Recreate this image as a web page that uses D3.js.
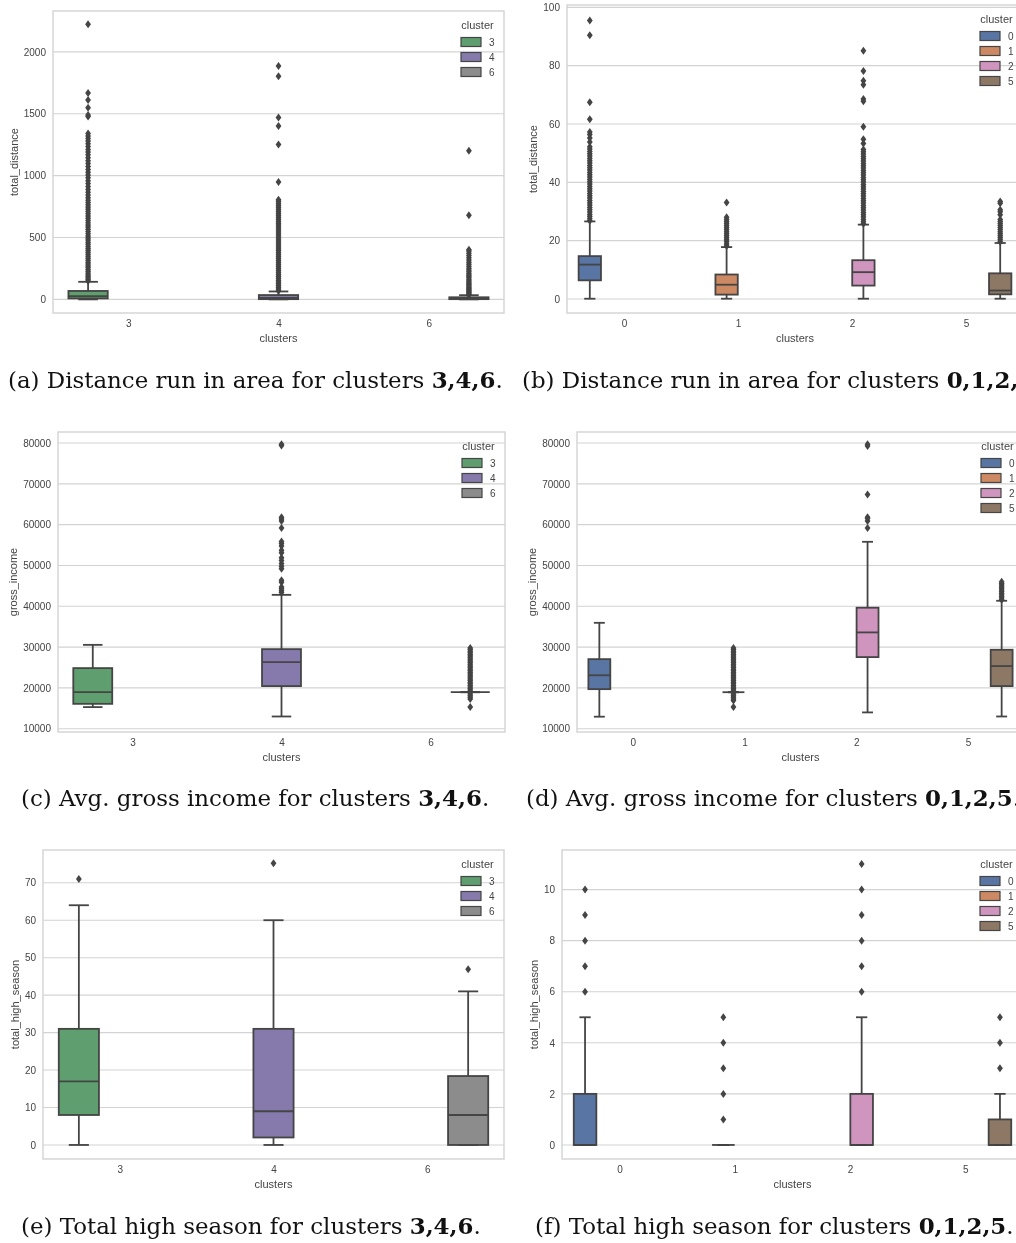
<!DOCTYPE html>
<html>
<head>
<meta charset="utf-8">
<script src="https://cdn.jsdelivr.net/npm/d3@7"></script>
<style>
  body { margin: 0; background: #fff; }
  svg { display: block; }
</style>
</head>
<body>
<svg id="fig" width="1016" height="1243"></svg>
<script>
// ---------- categories ----------
const leftClusters = ["3", "4", "6"];
const rightClusters = ["0", "1", "2", "5"];

// ---------- box statistics: [whisker low, q1, median, q3, whisker high] ----------
const distanceLeftBoxes = [[0, 8, 26, 68, 142], [0, 2, 11, 35, 64], [0, 2, 7, 17, 34]];
const distanceRightBoxes = [[0.1, 6.4, 11.8, 14.7, 26.6], [0.1, 1.5, 4.9, 8.4, 17.8], [0.1, 4.6, 9.2, 13.3, 25.5], [0.1, 1.6, 2.9, 8.8, 19.2]];
const grossLeftBoxes = [[15300, 16100, 18950, 24850, 30550], [13000, 20450, 26300, 29500, 42800], [18950, 18950, 18950, 18950, 18950]];
const grossRightBoxes = [[12950, 19700, 23100, 27050, 35950], [18950, 18950, 18950, 18950, 18950], [14000, 27550, 33600, 39650, 55800], [13000, 20450, 25350, 29350, 41350]];
const seasonLeftBoxes = [[0, 8, 17, 31, 64], [0, 2, 9, 31, 60], [0, 0, 8, 18.4, 41]];
const seasonRightBoxes = [[0, 0, 0, 2, 5], [0, 0, 0, 0, 0], [0, 0, 0, 2, 5], [0, 0, 0, 1, 2]];

// ---------- outliers ----------
const distanceLeftFliers = [
  [148, 160, 172, 185, 198, 212, 226, 240, 255, 270, 285, 300, 316, 332, 348, 364, 380, 396, 412, 428, 445, 462, 479, 496, 513, 530, 548, 566, 584, 602, 620, 638, 656, 674, 692, 710, 728, 746, 764, 782, 800, 822, 844, 866, 888, 912, 936, 958, 982, 1004, 1028, 1050, 1074, 1098, 1120, 1144, 1168, 1190, 1212, 1236, 1258, 1280, 1300, 1320, 1340, 1478, 1490, 1548, 1610, 1668, 2222],
  [70, 84, 98, 112, 126, 140, 155, 170, 185, 200, 216, 232, 248, 264, 280, 296, 312, 328, 344, 360, 376, 392, 408, 424, 440, 456, 472, 488, 504, 520, 536, 552, 568, 584, 600, 616, 632, 648, 664, 680, 696, 712, 728, 744, 760, 776, 792, 806, 948, 1252, 1400, 1470, 1802, 1886],
  [36, 44, 52, 60, 68, 76, 84, 92, 100, 110, 120, 130, 140, 150, 162, 174, 186, 198, 210, 224, 238, 252, 268, 284, 300, 318, 336, 355, 372, 390, 402, 680, 1200]
];
const distanceRightFliers = [
  [26.8, 27.5, 28.3, 29, 29.8, 30.6, 31.4, 32.2, 33, 33.8, 34.6, 35.4, 36.2, 37, 37.8, 38.6, 39.4, 40.2, 41, 41.8, 42.6, 43.4, 44.2, 45, 45.8, 46.6, 47.4, 48.2, 49, 49.8, 50.6, 51.4, 52.2, 53.8, 55.2, 56.4, 57.3, 61.6, 67.5, 90.4, 95.5],
  [18.2, 18.9, 19.6, 20.3, 21, 21.7, 22.4, 23.1, 23.8, 24.5, 25.2, 25.9, 26.6, 27.3, 28, 33.1],
  [25.8, 26.5, 27.3, 28.1, 28.9, 29.7, 30.5, 31.3, 32.1, 32.9, 33.7, 34.5, 35.3, 36.1, 36.9, 37.7, 38.5, 39.3, 40.1, 40.9, 41.7, 42.5, 43.3, 44.1, 44.9, 45.7, 46.5, 47.3, 48.1, 48.9, 49.7, 50.5, 51.3, 53.3, 54.8, 59.1, 67.8, 68.6, 73.5, 74.8, 78.2, 85.1],
  [19.6, 20.3, 21, 21.7, 22.4, 23.1, 23.8, 24.5, 25.2, 25.9, 26.6, 27.3, 28.9, 29.9, 30.6, 32.8, 33.4]
];
const grossLeftFliers = [
  [],
  [43400, 43800, 44300, 44700, 45900, 46400, 49200, 49800, 50500, 51200, 51900, 53100, 53700, 54800, 55400, 55900, 59200, 60900, 61400, 61800, 79400, 79700],
  [15300, 17300, 17700, 18100, 18500, 19400, 19800, 20200, 20600, 21000, 21400, 21800, 22200, 22600, 23000, 23400, 23800, 24200, 24600, 25000, 25400, 25800, 26200, 26600, 27000, 27400, 27800, 28200, 28600, 29000, 29400, 29800]
];
const grossRightFliers = [
  [],
  [15300, 16900, 17300, 17700, 18100, 18500, 19400, 19800, 20200, 20600, 21000, 21400, 21800, 22200, 22600, 23000, 23400, 23800, 24200, 24600, 25000, 25400, 25800, 26200, 26600, 27000, 27400, 27800, 28200, 28600, 29000, 29400, 29800],
  [59200, 60900, 61500, 61800, 67400, 79300, 79700],
  [41600, 42000, 42400, 42800, 43200, 43600, 44000, 44400, 44800, 45200, 45600, 46000]
];
const seasonLeftFliers = [[71], [75.2], [46.9]];
const seasonRightFliers = [[6, 7, 8, 9, 10], [1, 2, 3, 4, 5], [6, 7, 8, 9, 10, 11], [3, 4, 5]];

// ---------- axis ticks and limits ----------
const distanceLeftTicks = [0, 500, 1000, 1500, 2000];
const distanceRightTicks = [0, 20, 40, 60, 80, 100];
const grossTicks = [10000, 20000, 30000, 40000, 50000, 60000, 70000, 80000];
const seasonLeftTicks = [0, 10, 20, 30, 40, 50, 60, 70];
const seasonRightTicks = [0, 2, 4, 6, 8, 10];
const distanceLeftLimits = [-110, 2330];
const distanceRightLimits = [-4.8, 100.8];
const grossLimits = [9200, 82700];
const seasonLeftLimits = [-3.75, 78.75];
const seasonRightLimits = [-0.55, 11.55];

// ---------- captions ----------
const captionTexts = [
  "(a) Distance run in area for clusters ",
  "(b) Distance run in area for clusters ",
  "(c) Avg. gross income for clusters ",
  "(d) Avg. gross income for clusters ",
  "(e) Total high season for clusters ",
  "(f) Total high season for clusters "
];
const captionBold = ["3,4,6", "0,1,2,5", "3,4,6", "0,1,2,5", "3,4,6", "0,1,2,5"];

// ---------- styling ----------
const clusterColors = {
  "0": "#4C72B0", "1": "#DD8452", "2": "#DA8BC3", "3": "#55A868",
  "4": "#8172B3", "5": "#937860", "6": "#8C8C8C"
};
function boxFill(c) {
  const h = d3.hsl(clusterColors[c]);
  h.s *= 0.75;
  return h.formatHex();
}
const lineGray = "#444444";
const gridGray = "#d3d3d3";
const textGray = "#444444";
const sansFont = "'Liberation Sans', Arial, sans-serif";
const serifFont = "'DejaVu Serif', 'Liberation Serif', serif";

// ---------- layout of each axes frame ----------
const frames = [
  { left: 53, top: 11, right: 504, bottom: 313 },
  { left: 567, top: 5, right: 1023, bottom: 313 },
  { left: 58, top: 432, right: 505, bottom: 732 },
  { left: 577, top: 432, right: 1024, bottom: 732 },
  { left: 43, top: 850, right: 504, bottom: 1159 },
  { left: 562, top: 850, right: 1023, bottom: 1159 }
];
const captionPos = [
  { x: 8, y: 388 }, { x: 522, y: 388 },
  { x: 21, y: 806 }, { x: 526, y: 806 },
  { x: 21, y: 1234 }, { x: 535, y: 1234 }
];

const panels = [
  { cats: leftClusters, boxes: distanceLeftBoxes, fliers: distanceLeftFliers, ticks: distanceLeftTicks, limits: distanceLeftLimits, ylabel: "total_distance" },
  { cats: rightClusters, boxes: distanceRightBoxes, fliers: distanceRightFliers, ticks: distanceRightTicks, limits: distanceRightLimits, ylabel: "total_distance" },
  { cats: leftClusters, boxes: grossLeftBoxes, fliers: grossLeftFliers, ticks: grossTicks, limits: grossLimits, ylabel: "gross_income" },
  { cats: rightClusters, boxes: grossRightBoxes, fliers: grossRightFliers, ticks: grossTicks, limits: grossLimits, ylabel: "gross_income" },
  { cats: leftClusters, boxes: seasonLeftBoxes, fliers: seasonLeftFliers, ticks: seasonLeftTicks, limits: seasonLeftLimits, ylabel: "total_high_season" },
  { cats: rightClusters, boxes: seasonRightBoxes, fliers: seasonRightFliers, ticks: seasonRightTicks, limits: seasonRightLimits, ylabel: "total_high_season" }
];

const svg = d3.select("#fig");
svg.append("rect").attr("width", 1016).attr("height", 1243).attr("fill", "#fff");
svg.append("defs").append("filter").attr("id", "soft")
  .attr("x", "-5%").attr("y", "-5%").attr("width", "110%").attr("height", "110%")
  .append("feGaussianBlur").attr("stdDeviation", 0.5);

const diamond = "M0,-4L2.9,0L0,4L-2.9,0Z";

function drawPanel(p, f) {
  const g = svg.append("g").attr("filter", "url(#soft)");
  const n = p.cats.length;
  const x = d3.scalePoint().domain(p.cats).range([f.left, f.right]).padding(0.5);
  const y = d3.scaleLinear().domain(p.limits).range([f.bottom, f.top]);
  const step = x.step();

  // horizontal grid
  g.append("g").selectAll("line").data(p.ticks).join("line")
    .attr("x1", f.left).attr("x2", f.right)
    .attr("y1", d => y(d)).attr("y2", d => y(d))
    .attr("stroke", gridGray).attr("stroke-width", 1.1);

  // axes frame
  g.append("rect")
    .attr("x", f.left).attr("y", f.top)
    .attr("width", f.right - f.left).attr("height", f.bottom - f.top)
    .attr("fill", "none").attr("stroke", gridGray).attr("stroke-width", 1.4);

  // tick labels
  const ya = g.append("g").attr("transform", `translate(${f.left},0)`)
    .call(d3.axisLeft(y).tickValues(p.ticks).tickSize(0).tickPadding(7).tickFormat(d3.format("d")));
  ya.select(".domain").remove();
  ya.attr("font-family", sansFont).attr("font-size", 10);
  ya.selectAll("text").attr("fill", textGray);

  const xa = g.append("g").attr("transform", `translate(0,${f.bottom})`)
    .call(d3.axisBottom(x).tickSize(0).tickPadding(7));
  xa.select(".domain").remove();
  xa.attr("font-family", sansFont).attr("font-size", 10);
  xa.selectAll("text").attr("fill", textGray);

  // axis titles
  g.append("text")
    .attr("x", (f.left + f.right) / 2).attr("y", f.bottom + 29)
    .attr("text-anchor", "middle").attr("font-family", sansFont).attr("font-size", 11)
    .attr("fill", textGray).text("clusters");

  let minX = f.left;
  ya.selectAll("text").each(function () {
    const b = this.getBBox();
    minX = Math.min(minX, f.left + b.x);
  });
  const yl = minX - 10;
  g.append("text")
    .attr("transform", `translate(${yl},${(f.top + f.bottom) / 2}) rotate(-90)`)
    .attr("text-anchor", "middle").attr("dy", "0.35em")
    .attr("font-family", sansFont).attr("font-size", 11)
    .attr("fill", textGray).text(p.ylabel);

  // boxes, one hue slot per cluster
  const slot = 0.8 / n * step;
  const bw = slot * 0.98;
  p.cats.forEach((c, i) => {
    const cx = x(c) + (i - (n - 1) / 2) * slot;
    const [lo, q1, med, q3, hi] = p.boxes[i];
    const bg = g.append("g");
    bg.append("rect")
      .attr("x", cx - bw / 2).attr("y", y(q3))
      .attr("width", bw).attr("height", Math.max(0, y(q1) - y(q3)))
      .attr("fill", boxFill(c)).attr("stroke", lineGray).attr("stroke-width", 1.8);
    // whiskers
    bg.append("line").attr("x1", cx).attr("x2", cx).attr("y1", y(q1)).attr("y2", y(lo))
      .attr("stroke", lineGray).attr("stroke-width", 1.8);
    bg.append("line").attr("x1", cx).attr("x2", cx).attr("y1", y(q3)).attr("y2", y(hi))
      .attr("stroke", lineGray).attr("stroke-width", 1.8);
    // caps
    [lo, hi].forEach(v => {
      bg.append("line").attr("x1", cx - bw / 4).attr("x2", cx + bw / 4)
        .attr("y1", y(v)).attr("y2", y(v))
        .attr("stroke", lineGray).attr("stroke-width", 1.8);
    });
    // median
    bg.append("line").attr("x1", cx - bw / 2).attr("x2", cx + bw / 2)
      .attr("y1", y(med)).attr("y2", y(med))
      .attr("stroke", lineGray).attr("stroke-width", 1.8);
    // outliers
    bg.selectAll("path.flier").data(p.fliers[i]).join("path")
      .attr("class", "flier")
      .attr("d", diamond)
      .attr("transform", d => `translate(${cx},${y(d)})`)
      .attr("fill", lineGray);
  });

  // legend
  const pl = f.right - 23 - 20;
  const lg = g.append("g");
  lg.append("text")
    .attr("x", pl + 16.5).attr("y", f.top + 17.5)
    .attr("text-anchor", "middle").attr("font-family", sansFont).attr("font-size", 11)
    .attr("fill", textGray).text("cluster");
  p.cats.forEach((c, k) => {
    const cy = f.top + 31 + 15 * k;
    lg.append("rect").attr("x", pl).attr("y", cy - 4.5).attr("width", 20).attr("height", 9)
      .attr("fill", boxFill(c)).attr("stroke", lineGray).attr("stroke-width", 1.2);
    lg.append("text").attr("x", pl + 28).attr("y", cy + 3.6)
      .attr("font-family", sansFont).attr("font-size", 10)
      .attr("fill", textGray).text(c);
  });
}

panels.forEach((p, i) => drawPanel(p, frames[i]));

// ---------- captions ----------
const baseSize = 20;
const caps = captionTexts.map((t, i) => {
  const txt = svg.append("text")
    .attr("x", captionPos[i].x).attr("y", captionPos[i].y)
    .attr("font-family", serifFont).attr("font-size", baseSize).attr("fill", "#111");
  txt.append("tspan").text(t);
  txt.append("tspan").attr("font-weight", "bold").text(captionBold[i]);
  txt.append("tspan").text(".");
  return txt;
});
// size the caption face so the first line spans the same width as the typeset caption
const firstWidth = caps[0].node().getComputedTextLength();
const targetWidth = 495;
const capSize = baseSize * targetWidth / firstWidth;
caps.forEach(c => c.attr("font-size", capSize));
</script>
</body>
</html>
